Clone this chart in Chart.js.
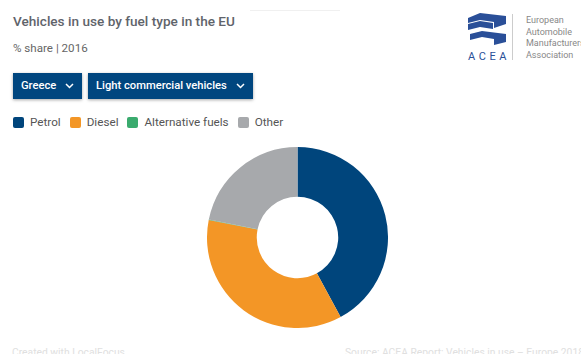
<!DOCTYPE html>
<html>
<head>
<meta charset="utf-8">
<script src="https://cdn.jsdelivr.net/npm/chart.js@4/dist/chart.umd.min.js"></script>
<style>
  body { margin: 0; width: 581px; height: 354px; overflow: hidden; background: #fff; font-family: Roboto, "Open Sans", sans-serif; position: relative; }
  .topline { position: absolute; left: 250px; top: 10px; width: 90px; height: 1px; background: #f0f0f0; }
  h1 { position: absolute; left: 13px; top: 13px; margin: 0; font-size: 13.6px; font-weight: 500; color: #5f646b; }
  .sub { position: absolute; left: 13px; top: 41px; font-size: 11.6px; color: #666; }
  .btn { position: absolute; top: 73px; height: 26px; background: #00467f; color: #fff; font-size: 11.2px; font-weight: 500; line-height: 26px; padding-left: 8px; box-shadow: 0 1px 3px rgba(0,0,0,0.35); box-sizing: border-box; }
  .btn svg { position: absolute; top: 10px; }
  #legend { position: absolute; left: 13px; top: 114px; display: flex; font-size: 11.7px; color: #555; line-height: 16px; }
  #legend span.item { display: flex; align-items: center; margin-right: 9px; }
  #legend i { display: inline-block; width: 11px; height: 11px; border-radius: 2px; margin-right: 6px; }
  #wrap { position: absolute; left: 207px; top: 147px; width: 181px; height: 181px; }
  .logo { position: absolute; left: 466px; top: 12px; }
  .acea { position: absolute; left: 468px; top: 50px; font-size: 11px; letter-spacing: 3.6px; color: #2a4f98; }
  .vline { position: absolute; left: 512px; top: 14px; width: 1px; height: 46px; background: #ccc; }
  .org { position: absolute; left: 526px; top: 15px; font-size: 9px; line-height: 11.5px; color: #888; white-space: nowrap; }
  .foot { position: absolute; top: 346px; font-size: 10.3px; color: #e0e0e0; white-space: nowrap; }
</style>
</head>
<body>
<div class="topline"></div>
<h1>Vehicles in use by fuel type in the EU</h1>
<div class="sub">% share | 2016</div>
<div class="btn" style="left:13px;width:69px;">Greece
  <svg style="left:52px" width="9" height="6"><polyline points="1,1 4.5,4.5 8,1" fill="none" stroke="#fff" stroke-width="1.5"/></svg></div>
<div class="btn" style="left:88px;width:165px;">Light commercial vehicles
  <svg style="left:148px" width="9" height="6"><polyline points="1,1 4.5,4.5 8,1" fill="none" stroke="#fff" stroke-width="1.5"/></svg></div>
<div id="legend"></div>

<svg class="logo" width="42" height="34" viewBox="0 0 42 34">
  <polygon points="2,6 14,1 40,4 40,12 28,16 28,10 14,8 2,11" fill="#2a4f98"/>
  <polygon points="2,12 14,9 27,11 27,17 14,15 2,18" fill="#2a4f98"/>
  <polygon points="4,22 16,19 40,22 40,30 28,33 28,27 16,25 4,28" fill="#2a4f98"/>
</svg>
<div class="acea">ACEA</div>
<div class="vline"></div>
<div class="org">European<br>Automobile<br>Manufacturers<br>Association</div>

<div id="wrap"><canvas id="chart"></canvas></div>

<div class="foot" style="left:12px;">Created with LocalFocus</div>
<div class="foot" style="left:345px;">Source: ACEA Report: Vehicles in use – Europe 2018</div>

<script>
const labels = ['Petrol', 'Diesel', 'Alternative fuels', 'Other'];
const shares = [42.1, 36.0, 0.1, 21.8];
const colors = ['#00457c', '#f39626', '#3aab6e', '#a7a9ac'];

const legend = document.getElementById('legend');
labels.forEach((name, i) => {
  const s = document.createElement('span');
  s.className = 'item';
  s.innerHTML = `<i style="background:${colors[i]}"></i>${name}`;
  legend.appendChild(s);
});

new Chart(document.getElementById('chart'), {
  type: 'doughnut',
  data: {
    labels: labels,
    datasets: [{ data: shares, backgroundColor: colors, borderWidth: 0 }]
  },
  options: {
    responsive: true,
    maintainAspectRatio: false,
    animation: false,
    cutout: '45%',
    plugins: { legend: { display: false }, tooltip: { enabled: false } }
  }
});
</script>
</body>
</html>
